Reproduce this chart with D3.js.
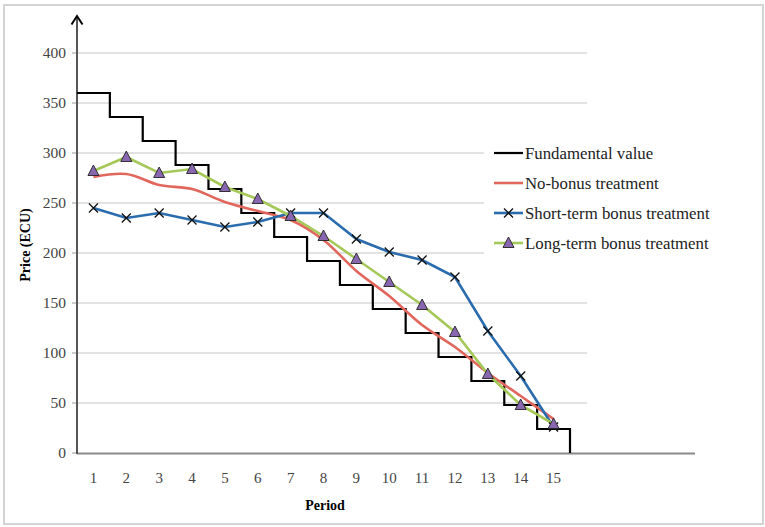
<!DOCTYPE html>
<html>
<head>
<meta charset="utf-8">
<script src="https://cdn.jsdelivr.net/npm/d3@7"></script>
<style>
  body { margin: 0; background: #fff; }
  svg text { font-family: "Liberation Serif", "DejaVu Serif", serif; }
</style>
</head>
<body>
<svg width="765" height="527"></svg>
<script>
// data
var periods = [1, 2, 3, 4, 5, 6, 7, 8, 9, 10, 11, 12, 13, 14, 15];
var fundamental = [360, 336, 312, 288, 264, 240, 216, 192, 168, 144, 120, 96, 72, 48, 24];
var noBonus = [276, 279, 268, 264, 251, 242, 233, 213, 182, 157, 128, 106, 80, 57, 34];
var shortTerm = [245, 235, 240, 233, 226, 231, 240, 240, 214, 201, 193, 176, 122, 77, 26];
var longTerm = [282, 296, 280, 284, 266, 254, 237, 217, 194, 171, 148, 121, 79, 48, 29];
var yTicks = [0, 50, 100, 150, 200, 250, 300, 350, 400];
var legendNames = ["Fundamental value", "No-bonus treatment", "Short-term bonus treatment", "Long-term bonus treatment"];

var svg = d3.select("svg");

// frame
svg.append("rect")
    .attr("x", 4).attr("y", 5).attr("width", 759).attr("height", 519)
    .attr("fill", "#fff").attr("stroke", "#d4d4d4").attr("stroke-width", 2);

var x = d3.scaleLinear().domain([0.5, 15.5]).range([77, 570]);
var y = d3.scaleLinear().domain([0, 400]).range([453, 53]);

// grid
svg.append("g").selectAll("line")
    .data(yTicks.filter(d => d > 0))
    .join("line")
    .attr("x1", 77).attr("x2", 587)
    .attr("y1", d => y(d)).attr("y2", d => y(d))
    .attr("stroke", "#e2e2e2").attr("stroke-width", 2);

// y ticks
var yAxis = svg.append("g");
yAxis.selectAll("line").data(yTicks).join("line")
    .attr("x1", 72).attr("x2", 77)
    .attr("y1", d => y(d)).attr("y2", d => y(d))
    .attr("stroke", "#bbb").attr("stroke-width", 1.5);
yAxis.selectAll("text").data(yTicks).join("text")
    .attr("x", 66).attr("y", d => y(d) + 5)
    .attr("text-anchor", "end").attr("font-size", 15.5).attr("fill", "#444")
    .text(d => d);

// x axis line
svg.append("line")
    .attr("x1", 77).attr("x2", 695).attr("y1", 453.5).attr("y2", 453.5)
    .attr("stroke", "#8a8a8a").attr("stroke-width", 2);

svg.append("g").selectAll("text").data(periods).join("text")
    .attr("x", d => x(d)).attr("y", 483)
    .attr("text-anchor", "middle").attr("font-size", 15).attr("fill", "#444")
    .text(d => d);

// y axis with arrow
svg.append("line")
    .attr("x1", 77).attr("x2", 77).attr("y1", 454).attr("y2", 17)
    .attr("stroke", "#555").attr("stroke-width", 2);
svg.append("path")
    .attr("d", "M71.5,24.5L77,16L82.5,24.5")
    .attr("fill", "none").attr("stroke", "#000").attr("stroke-width", 2);

// axis titles
svg.append("text")
    .attr("transform", "translate(30,245) rotate(-90)")
    .attr("text-anchor", "middle").attr("font-size", 14).attr("font-weight", "bold")
    .text("Price (ECU)");
svg.append("text")
    .attr("x", 325).attr("y", 510)
    .attr("text-anchor", "middle").attr("font-size", 14).attr("font-weight", "bold")
    .text("Period");

// fundamental value steps
var fvPts = periods.map((p, i) => [p - 0.5, fundamental[i]]);
fvPts.push([15.5, 0]);
svg.append("path")
    .datum(fvPts)
    .attr("d", d3.line().x(d => x(d[0])).y(d => y(d[1])).curve(d3.curveStepAfter))
    .attr("fill", "none").attr("stroke", "#000").attr("stroke-width", 2.2);

var red = "#e1675d", blue = "#2b6cae", green = "#a5c859", purple = "#8866b0";

function series(vals, color, curve) {
  var pts = periods.map((p, i) => [p, vals[i]]);
  svg.append("path")
      .datum(pts)
      .attr("d", d3.line().x(d => x(d[0])).y(d => y(d[1])).curve(curve))
      .attr("fill", "none").attr("stroke", color).attr("stroke-width", 2.6);
  return pts;
}

series(noBonus, red, d3.curveCatmullRom);
var sPts = series(shortTerm, blue, d3.curveLinear);
var lPts = series(longTerm, green, d3.curveLinear);

function xMark(g, cx, cy) {
  g.append("path")
      .attr("d", `M${cx - 4.5},${cy - 4.5}L${cx + 4.5},${cy + 4.5}M${cx - 4.5},${cy + 4.5}L${cx + 4.5},${cy - 4.5}`)
      .attr("stroke", "#111").attr("stroke-width", 1.3);
}
function triMark(g, cx, cy) {
  g.append("path")
      .attr("d", `M${cx},${cy - 6}L${cx + 5.5},${cy + 4.5}L${cx - 5.5},${cy + 4.5}Z`)
      .attr("fill", purple).attr("stroke", "#222").attr("stroke-width", 0.9);
}

var mk = svg.append("g");
sPts.forEach(d => xMark(mk, x(d[0]), y(d[1])));
lPts.forEach(d => triMark(mk, x(d[0]), y(d[1])));

// legend
var lg = svg.append("g");
lg.append("rect").attr("x", 484).attr("y", 132).attr("width", 240).attr("height", 126).attr("fill", "#fff");
var legColors = ["#000", red, blue, green];
legendNames.forEach((name, i) => {
  var ly = 153 + i * 30;
  lg.append("line").attr("x1", 494).attr("x2", 523).attr("y1", ly).attr("y2", ly)
      .attr("stroke", legColors[i]).attr("stroke-width", i === 0 ? 2.2 : 2.6);
  if (i === 2) xMark(lg, 508.5, ly);
  if (i === 3) triMark(lg, 508.5, ly);
  lg.append("text").attr("x", 525).attr("y", ly + 5.5)
      .attr("font-size", 16.8).attr("fill", "#222").text(name);
});
</script>
</body>
</html>
